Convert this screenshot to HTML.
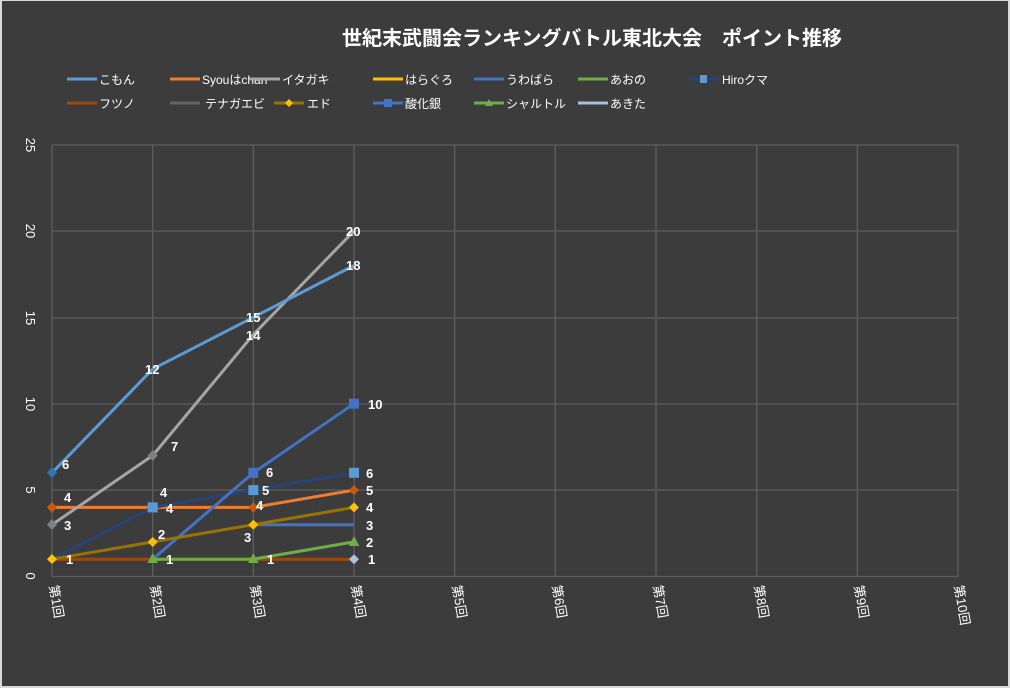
<!DOCTYPE html>
<html><head><meta charset="utf-8"><style>
html,body{margin:0;padding:0;background:#d9d9d9;}
svg{display:block;font-family:"Liberation Sans","Noto Sans CJK JP",sans-serif;}
</style></head><body>
<svg width="1010" height="688" viewBox="0 0 1010 688" xmlns="http://www.w3.org/2000/svg">
<rect x="0" y="0" width="1010" height="688" fill="#d9d9d9"/>
<rect x="2" y="1" width="1006" height="685" fill="#3c3c3c"/>
<text x="592" y="45" fill="#fff" font-size="20" font-weight="bold" text-anchor="middle">世紀末武闘会ランキングバトル東北大会　ポイント推移</text>
<!-- legend -->
<g font-size="12" fill="#fff" stroke-width="3">
<line x1="67" y1="79" x2="97" y2="79" stroke="#5b9bd5"/><text x="99" y="84">こもん</text>
<line x1="170" y1="79" x2="200" y2="79" stroke="#ed7d31"/><text x="202" y="84">Syouはchan</text>
<line x1="250" y1="79" x2="280" y2="79" stroke="#a5a5a5"/><text x="282" y="84">イタガキ</text>
<line x1="373" y1="79" x2="403" y2="79" stroke="#ffc000"/><text x="405" y="84">はらぐろ</text>
<line x1="474" y1="79" x2="504" y2="79" stroke="#4472c4"/><text x="506" y="84">うわばら</text>
<line x1="578" y1="79" x2="608" y2="79" stroke="#70ad47"/><text x="610" y="84">あおの</text>
<line x1="689" y1="79" x2="719" y2="79" stroke="#264478"/><rect x="700" y="75" width="7" height="8" fill="#5b9bd5"/><text x="722" y="84">Hiroクマ</text>
<line x1="67" y1="103" x2="97" y2="103" stroke="#9e480e"/><text x="99" y="108">フツノ</text>
<line x1="170" y1="103" x2="200" y2="103" stroke="#636363"/><text x="205" y="108">テナガエビ</text>
<line x1="274" y1="103" x2="304" y2="103" stroke="#997300"/><polygon points="289,99 293,103 289,107 285,103" fill="#ffc000"/><text x="307" y="108">エド</text>
<line x1="373" y1="103" x2="403" y2="103" stroke="#4472c4"/><rect x="384" y="99" width="8" height="8" fill="#4472c4"/><text x="405" y="108">酸化銀</text>
<line x1="474" y1="103" x2="504" y2="103" stroke="#70ad47"/><polygon points="489,99 493,106 485,106" fill="#70ad47"/><text x="506" y="108">シャルトル</text>
<line x1="578" y1="103" x2="608" y2="103" stroke="#a9c1e0"/><text x="610" y="108">あきた</text>
</g>
<!-- grid -->
<g stroke="#5e5e5e" stroke-width="1.3" fill="none">
<line x1="52" y1="145" x2="958" y2="145"/>
<line x1="52" y1="231" x2="958" y2="231"/>
<line x1="52" y1="318" x2="958" y2="318"/>
<line x1="52" y1="404" x2="958" y2="404"/>
<line x1="52" y1="490" x2="958" y2="490"/>
<line x1="52" y1="576.5" x2="958" y2="576.5"/>
<line x1="52" y1="145" x2="52" y2="577"/><line x1="152.7" y1="145" x2="152.7" y2="577"/>
<line x1="253.3" y1="145" x2="253.3" y2="577"/><line x1="354" y1="145" x2="354" y2="577"/>
<line x1="454.7" y1="145" x2="454.7" y2="577"/><line x1="555.3" y1="145" x2="555.3" y2="577"/>
<line x1="656" y1="145" x2="656" y2="577"/><line x1="756.7" y1="145" x2="756.7" y2="577"/>
<line x1="857.3" y1="145" x2="857.3" y2="577"/><line x1="958" y1="145" x2="958" y2="577"/>
</g>
<!-- y labels -->
<g font-size="13" fill="#fff" text-anchor="middle">
<text transform="translate(30,145) rotate(90)" dy="4">25</text>
<text transform="translate(30,231) rotate(90)" dy="4">20</text>
<text transform="translate(30,318) rotate(90)" dy="4">15</text>
<text transform="translate(30,404) rotate(90)" dy="4">10</text>
<text transform="translate(30,490) rotate(90)" dy="4">5</text>
<text transform="translate(30,576) rotate(90)" dy="4">0</text>
</g>
<!-- x labels -->
<g font-size="13" fill="#fff">
<text transform="translate(49,586) rotate(80)">第1回</text>
<text transform="translate(150,586) rotate(80)">第2回</text>
<text transform="translate(250,586) rotate(80)">第3回</text>
<text transform="translate(351,586) rotate(80)">第4回</text>
<text transform="translate(452,586) rotate(80)">第5回</text>
<text transform="translate(552,586) rotate(80)">第6回</text>
<text transform="translate(653,586) rotate(80)">第7回</text>
<text transform="translate(754,586) rotate(80)">第8回</text>
<text transform="translate(854,586) rotate(80)">第9回</text>
<text transform="translate(954,586) rotate(80)">第10回</text>
</g>
<!-- series -->
<g fill="none" stroke-width="3" stroke-linejoin="round">
<polyline points="52,559.2 152.7,559.2 253.3,559.2 354,559.2" stroke="#9e480e"/>
<polyline points="253.3,524.7 354,524.7" stroke="#4472c4"/>
<polyline points="52,507.4 152.7,507.4 253.3,507.4 354,490.1" stroke="#ed7d31"/>
<polyline points="52,559.2 152.7,507.4 253.3,490.1 354,472.8" stroke="#264478"/>
<polyline points="152.7,559.2 253.3,472.8 354,403.7" stroke="#4472c4"/>
<polyline points="152.7,559.2 253.3,559.2 354,541.9" stroke="#70ad47"/>
<polyline points="52,559.2 152.7,541.9 253.3,524.7 354,507.4" stroke="#997300"/>
<polyline points="52,524.7 152.7,455.5 253.3,334.6 354,230.9" stroke="#a5a5a5"/>
<polyline points="52,472.8 152.7,369.1 253.3,317.3 354,265.5" stroke="#5b9bd5"/>
</g>
<!-- markers -->
<g>
<polygon points="52,502 57,507.4 52,513 47,507.4" fill="#c55a11"/>
<polygon points="354,485 359,490.1 354,495 349,490.1" fill="#c55a11"/>
<polygon points="253.3,502 258,507.4 253.3,513 248.6,507.4" fill="#c55a11"/>
<polygon points="52,519 57,524.7 52,530 47,524.7" fill="#7f7f7f"/>
<polygon points="152.7,450 157.7,455.5 152.7,461 147.7,455.5" fill="#7f7f7f"/>
<polygon points="52,467 57,472.8 52,478 47,472.8" fill="#2e75b6"/>
<rect x="147.7" y="502.4" width="10" height="10" fill="#5b9bd5"/>
<rect x="248.3" y="485.1" width="10" height="10" fill="#5b9bd5"/>
<rect x="349" y="467.8" width="10" height="10" fill="#5b9bd5"/>
<rect x="248.3" y="467.8" width="10" height="10" fill="#4472c4"/>
<rect x="349" y="398.7" width="10" height="10" fill="#4472c4"/>
<polygon points="52,554 57,559.2 52,564 47,559.2" fill="#ffc000"/>
<polygon points="152.7,537 157.7,541.9 152.7,547 147.7,541.9" fill="#ffc000"/>
<polygon points="253.3,519.7 258.3,524.7 253.3,529.7 248.3,524.7" fill="#ffc000"/>
<polygon points="354,502.4 359,507.4 354,512.4 349,507.4" fill="#ffc000"/>
<polygon points="152.7,553 158,563 147.4,563" fill="#70ad47"/>
<polygon points="253.3,553 258.6,563 248,563" fill="#70ad47"/>
<polygon points="354,536 359.3,546 348.7,546" fill="#70ad47"/>
<polygon points="354,554.2 359,559.2 354,564.2 349,559.2" fill="#a9c1e0"/>
</g>
<!-- data labels -->
<g font-size="13" font-weight="bold" fill="#fff">
<text x="62" y="469">6</text><text x="145" y="374">12</text><text x="246" y="322">15</text><text x="346" y="270">18</text>
<text x="346" y="236">20</text><text x="246" y="340">14</text><text x="171" y="451">7</text><text x="64" y="530">3</text>
<text x="64" y="502">4</text><text x="160" y="497">4</text><text x="256" y="510">4</text><text x="366" y="495">5</text>
<text x="166" y="513">4</text><text x="262" y="495">5</text><text x="366" y="478">6</text>
<text x="266" y="477">6</text><text x="368" y="409">10</text>
<text x="158" y="539">2</text><text x="244" y="542">3</text><text x="366" y="512">4</text>
<text x="366" y="530">3</text><text x="366" y="547">2</text>
<text x="66" y="564">1</text><text x="166" y="564">1</text><text x="267" y="564">1</text><text x="368" y="564">1</text>
</g>
</svg>
</body></html>
